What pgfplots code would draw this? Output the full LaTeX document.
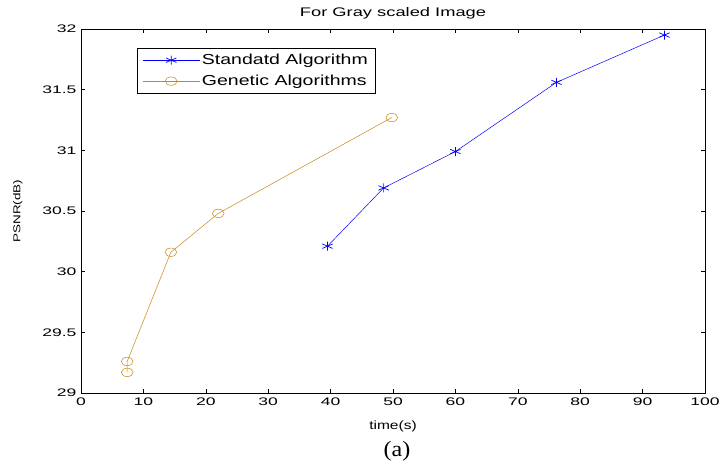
\documentclass[border=0pt]{standalone}
\usepackage{pgfplots}
\pgfplotsset{compat=1.18}
\usepackage{fontspec}
\usepackage{graphicx}
\setmainfont{Liberation Sans}
\newfontfamily\seriffont{Liberation Serif}
\definecolor{gold}{RGB}{200,135,20}
\newcommand\sx[1]{\scalebox{1.6}[1]{#1}}
\begin{document}
\begin{tikzpicture}[x=1bp,y=1bp]
\useasboundingbox (0,0) rectangle (720,467);
\begin{axis}[
  at={(81bp,74bp)}, anchor=south west,
  scale only axis, width=624bp, height=364bp,
  xmin=0, xmax=100, ymin=29, ymax=32,
  xtick={0,10,...,100}, ytick={29,29.5,...,32},
  xticklabels={\sx{0},\sx{10},\sx{20},\sx{30},\sx{40},\sx{50},\sx{60},\sx{70},\sx{80},\sx{90},\sx{100}},
  yticklabels={\sx{29},\sx{29.5},\sx{30},\sx{30.5},\sx{31},\sx{31.5},\sx{32}},
  tick align=inside, major tick length=4bp,
  tick style={black, line width=0.6pt},
  axis line style={line width=0.9pt},
  ticklabel style={font=\fontsize{11}{13}\selectfont},
  yticklabel style={xshift=-1bp},
  xticklabel style={yshift=-1bp},
  title={\scalebox{1.47}[1]{For Gray scaled Image}},
  title style={font=\fontsize{12.5}{14}\selectfont, yshift=0bp},
  xlabel={\scalebox{1.3}[1]{time(s)}},
  xlabel style={font=\fontsize{12}{14}\selectfont, yshift=-9bp},
  ylabel={\scalebox{1.35}[1]{PSNR(dB)}},
  ylabel style={font=\fontsize{10}{12}\selectfont, yshift=13bp},
  legend style={at={(0.090,0.948)}, anchor=north west, draw=black, line width=0.6pt,
    font=\fontsize{14.5}{16}\selectfont, row sep=5bp, inner xsep=5bp, inner ysep=4bp},
  legend cell align=left,
  legend image code/.code={\draw[#1] (0bp,0bp) -- (57bp,0bp); \draw[#1, only marks] plot coordinates {(28.5bp,0bp)};},
]
\addplot[blue, line width=0.5pt, mark=asterisk, mark size=4.5bp, mark options={line width=0.7pt, xscale=1.33}]
  coordinates {(39.5,30.21) (48.5,30.69) (60,30.99) (76.2,31.56) (93.5,31.95)};
\addlegendentry{\scalebox{1.35}[1]{Standatd Algorithm}}
\addplot[gold, line width=0.5pt, mark=o, mark size=4.2bp, mark options={line width=0.5pt, xscale=1.4}]
  coordinates {(7.4,29.17) (7.4,29.26) (14.4,30.16) (22,30.48) (49.8,31.27)};
\addlegendentry{\scalebox{1.35}[1]{Genetic Algorithms}}
\end{axis}
\node[font=\seriffont\fontsize{22}{24}\selectfont] at (397bp,16bp) {\scalebox{1.1}[1]{(a)}};
\end{tikzpicture}
\end{document}
